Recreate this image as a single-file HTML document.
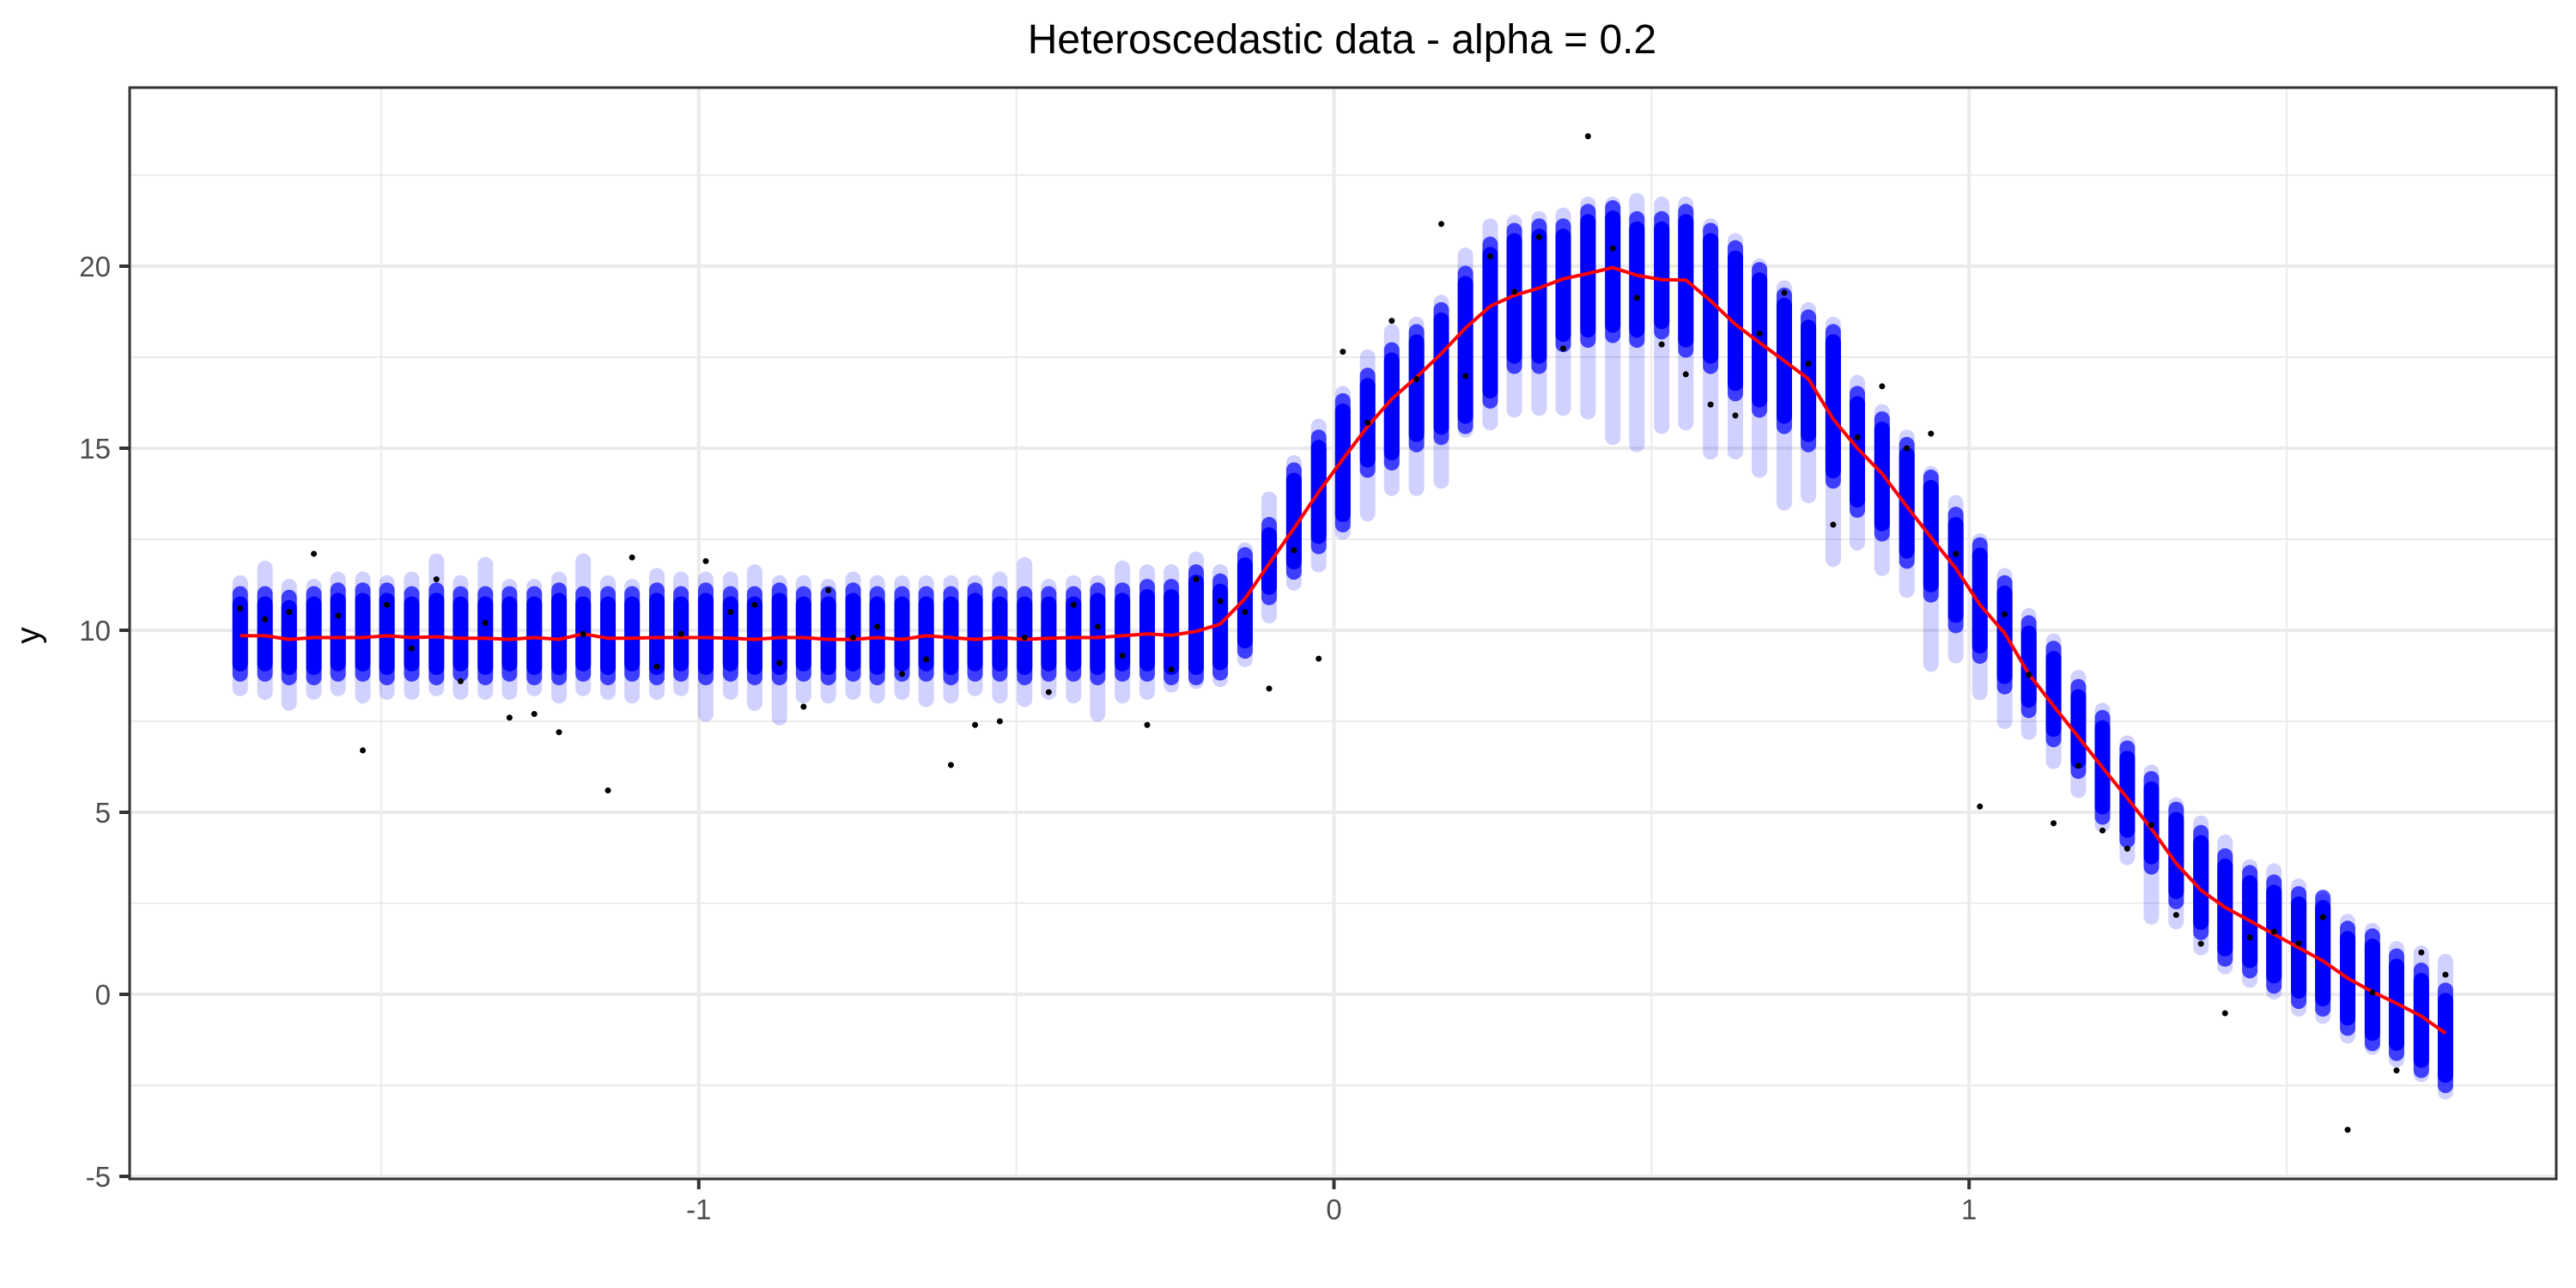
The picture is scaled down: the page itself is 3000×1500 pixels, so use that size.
<!DOCTYPE html>
<html><head><meta charset="utf-8"><style>
html,body{margin:0;padding:0;background:#fff;}
svg{display:block;}
text{font-family:"Liberation Sans",sans-serif;}
</style></head><body>
<svg id="chart" width="3000" height="1500" viewBox="0 0 3000 1500" xmlns="http://www.w3.org/2000/svg">
<rect x="0" y="0" width="3000" height="1500" fill="#fff"/>
<text x="1563" y="62" font-size="48" text-anchor="middle" fill="#000">Heteroscedastic data - alpha = 0.2</text>
<text transform="translate(46,740) rotate(-90)" font-size="39" text-anchor="middle" fill="#000">y</text>
<g id="grid"></g>
<g id="tails"></g>
<g id="bands"></g>
<g id="line"></g>
<g id="dots"></g>
<rect x="151" y="102" width="2826" height="1271" fill="none" stroke="#333" stroke-width="3"/>
<g id="axes"></g>
</svg>
<script>
const colX = [-1.722,-1.683,-1.645,-1.606,-1.568,-1.529,-1.491,-1.452,-1.413,-1.375,-1.336,-1.298,-1.259,-1.220,-1.182,-1.143,-1.105,-1.066,-1.028,-0.989,-0.950,-0.912,-0.873,-0.835,-0.796,-0.757,-0.719,-0.680,-0.642,-0.603,-0.565,-0.526,-0.487,-0.449,-0.410,-0.372,-0.333,-0.294,-0.256,-0.217,-0.179,-0.140,-0.102,-0.063,-0.024,0.014,0.053,0.091,0.130,0.169,0.207,0.246,0.284,0.323,0.361,0.400,0.439,0.477,0.516,0.554,0.593,0.632,0.670,0.709,0.747,0.786,0.824,0.863,0.902,0.940,0.979,1.017,1.056,1.094,1.133,1.172,1.210,1.249,1.287,1.326,1.365,1.403,1.442,1.480,1.519,1.557,1.596,1.635,1.673,1.712,1.750];
const smoothY = [9.85,9.85,9.75,9.8,9.8,9.8,9.85,9.8,9.82,9.78,9.78,9.75,9.8,9.75,9.9,9.78,9.78,9.8,9.8,9.8,9.78,9.75,9.8,9.8,9.75,9.75,9.8,9.75,9.85,9.8,9.75,9.8,9.75,9.78,9.8,9.8,9.85,9.9,
9.86,9.97,10.17,10.87,11.83,12.8,13.8,14.7,15.6,16.35,16.95,17.6,18.3,18.9,19.2,19.4,19.65,19.8,19.96,19.75,19.63,19.62,19.05,18.4,17.9,17.4,16.9,15.8,
15.0,14.3,13.4,12.55,11.7,10.7,9.92,8.8,7.92,7.07,6.23,5.39,4.55,3.6,2.86,2.39,2.02,1.65,1.28,0.92,0.44,0.07,-0.25,-0.6,-1.07];
const bandHi = [11.0,11.0,10.9,11.0,11.1,11.1,11.1,11.0,11.1,11.0,11.0,11.0,11.0,11.1,11.0,11.0,11.0,11.1,11.0,11.1,11.0,11.0,11.1,11.0,11.0,11.1,11.0,11.0,11.0,11.0,11.1,11.0,11.0,11.0,11.0,11.1,11.1,11.2,
11.2,11.6,11.35,12.07,12.9,14.4,15.3,16.3,17.0,17.7,18.2,18.8,19.8,20.6,20.98,21.1,21.1,21.5,21.6,21.3,21.3,21.5,20.98,20.5,19.9,19.2,18.6,18.2,
16.5,15.8,15.1,14.2,13.18,12.34,11.3,10.2,9.5,8.45,7.6,6.76,5.92,5.08,4.44,3.8,3.34,3.08,2.76,2.66,1.81,1.6,1.05,0.66,0.11];
const bandLo = [8.8,8.8,8.7,8.7,8.8,8.8,8.7,8.8,8.7,8.8,8.7,8.8,8.7,8.7,8.8,8.7,8.8,8.7,8.8,8.7,8.8,8.7,8.7,8.8,8.7,8.8,8.7,8.8,8.8,8.7,8.8,8.8,8.7,8.8,8.8,8.7,8.8,8.8,
8.7,8.7,8.83,9.43,10.9,11.6,12.3,12.9,14.4,14.6,15.1,15.3,15.6,16.3,17.25,17.25,17.85,17.97,18.1,17.97,18.2,17.7,17.25,16.5,16.05,15.6,15.1,14.1,
13.3,12.65,11.9,10.97,10.13,9.29,8.45,7.8,7.0,6.13,4.87,4.23,3.5,2.55,1.7,0.97,0.65,0.23,-0.19,-0.4,-0.93,-1.35,-1.62,-2.09,-2.5];
const tailHi = [11.3,11.7,11.2,11.2,11.4,11.4,11.3,11.4,11.9,11.3,11.8,11.2,11.2,11.4,11.9,11.3,11.2,11.5,11.4,11.4,11.4,11.6,11.3,11.3,11.2,11.4,11.3,11.3,11.3,11.3,11.3,11.4,11.8,11.2,11.3,11.3,11.7,11.6,
11.6,11.95,11.6,12.2,13.6,14.6,15.6,16.5,17.5,18.2,18.4,19.0,20.3,21.1,21.2,21.3,21.4,21.7,21.7,21.8,21.7,21.7,21.1,20.7,20.0,19.4,18.8,18.4,
16.8,16.0,15.3,14.3,13.5,12.45,11.5,10.4,9.7,8.7,7.8,6.9,6.1,5.2,4.7,4.18,3.5,3.39,2.97,2.55,2.0,1.75,1.25,1.13,0.9];
const tailLo = [8.4,8.3,8.0,8.3,8.4,8.2,8.3,8.3,8.4,8.3,8.3,8.3,8.4,8.2,8.4,8.3,8.2,8.3,8.4,7.7,8.3,8.0,7.6,8.2,8.2,8.3,8.2,8.3,8.1,8.2,8.4,8.2,8.1,8.3,8.2,7.7,8.2,8.3,
8.5,8.6,8.65,9.2,10.4,11.3,11.8,12.7,13.2,13.9,13.9,14.1,15.5,15.7,16.05,16.1,16.1,16.0,15.3,15.1,15.6,15.7,14.9,14.9,14.4,13.5,13.7,11.95,
12.4,11.7,11.1,9.07,9.3,8.29,7.5,7.2,6.4,5.6,4.66,3.76,2.13,2.0,1.28,0.76,0.39,0.07,-0.4,-0.6,-1.14,-1.45,-1.8,-2.2,-2.68];
const dotY = [10.6,10.3,10.5,12.1,10.4,6.7,10.7,9.5,11.4,8.6,10.2,7.6,7.7,7.2,9.9,5.6,12.0,9.0,9.9,11.9,10.5,10.7,9.1,7.9,11.1,9.8,10.1,8.8,9.2,6.3,7.4,7.5,9.8,8.3,10.7,10.1,9.3,7.4,
8.92,11.4,10.8,10.5,8.4,12.2,9.22,17.65,15.7,18.5,16.9,21.16,16.98,20.27,19.3,20.8,17.74,23.57,20.49,19.13,17.85,17.03,16.2,15.9,18.15,19.27,17.32,12.9,
15.3,16.7,15.0,15.4,12.1,5.16,10.44,8.78,4.7,6.28,4.5,4.0,4.65,2.18,1.39,-0.52,1.56,1.72,1.4,2.12,-3.72,0.05,-2.09,1.15,0.54];
const yTicks = [-5,0,5,10,15,20];
const yTickLabels = ["-5","0","5","10","15","20"];
const yMinor = [-2.5,2.5,7.5,12.5,17.5,22.5];
const xTicks = [-1,0,1];
const xTickLabels = ["-1","0","1"];
const xMinor = [-1.5,-0.5,0.5,1.5];

const NS = "http://www.w3.org/2000/svg";
const PL = 151, PR = 2977, PT = 102, PB = 1373;
function sx(v){ return 1553.5 + 739.7 * v; }
function sy(v){ return 1158 - 42.4 * v; }
function mk(tag, attrs, parent){
  const e = document.createElementNS(NS, tag);
  for (const k in attrs) e.setAttribute(k, attrs[k]);
  parent.appendChild(e);
  return e;
}
const grid = document.getElementById('grid');
yMinor.forEach(v => {
  const l = mk('line', {x1:PL, x2:PR, y1:sy(v), y2:sy(v), stroke:'#ebebeb', 'stroke-width':2}, grid);
  
  
});
xMinor.forEach(v => {
  const l = mk('line', {x1:sx(v), x2:sx(v), y1:PT, y2:PB, stroke:'#ebebeb', 'stroke-width':2}, grid);
  
  
});
yTicks.forEach(v => {
  const l = mk('line', {x1:PL, x2:PR, y1:sy(v), y2:sy(v), stroke:'#ebebeb', 'stroke-width':4}, grid);
  
  
});
xTicks.forEach(v => {
  const l = mk('line', {x1:sx(v), x2:sx(v), y1:PT, y2:PB, stroke:'#ebebeb', 'stroke-width':4}, grid);
  
  
});

const tails = document.getElementById('tails');
const bands = document.getElementById('bands');
const W = 18;
colX.forEach((x, i) => {
  const cx = sx(x);
  const t = mk('rect', {x:cx-W/2, y:sy(tailHi[i])-W/2, width:W, height:sy(tailLo[i])-sy(tailHi[i])+W, rx:9, ry:9, fill:'#0000ff', 'fill-opacity':0.18}, tails);
  
  
  const b = mk('rect', {x:cx-W/2, y:sy(bandHi[i])-W/2, width:W, height:sy(bandLo[i])-sy(bandHi[i])+W, rx:9, ry:9, fill:'#0000ff', 'fill-opacity':0.7}, bands);
  
  
  const c = mk('rect', {x:cx-W/2, y:sy(bandHi[i])+3, width:W, height:Math.max(0, sy(bandLo[i])-sy(bandHi[i])-6), rx:9, ry:9, fill:'#0000ff'}, bands);
  
  
});

const lineG = document.getElementById('line');
const d = colX.map((x, i) => (i ? 'L' : 'M') + sx(x).toFixed(1) + ',' + sy(smoothY[i]).toFixed(1)).join(' ');
const path = mk('path', {d:d, fill:'none', stroke:'#ff0000', 'stroke-width':4, 'stroke-linejoin':'round'}, lineG);



const dots = document.getElementById('dots');
colX.forEach((x, i) => {
  const c = mk('circle', {cx:sx(x), cy:sy(dotY[i]), r:3.5, fill:'#000'}, dots);
  
  
});

const axes = document.getElementById('axes');
yTicks.forEach((v, i) => {
  const tk = mk('line', {x1:139, x2:PL, y1:sy(v), y2:sy(v), stroke:'#333', 'stroke-width':4}, axes);
  
  
  const tx = mk('text', {x:129, y:sy(v)+12, 'font-size':33, 'text-anchor':'end', fill:'#4d4d4d'}, axes);
  tx.textContent = yTickLabels[i];
  
  
});
xTicks.forEach((v, i) => {
  const tk = mk('line', {x1:sx(v), x2:sx(v), y1:PB, y2:PB+12, stroke:'#333', 'stroke-width':4}, axes);
  
  
  const tx = mk('text', {x:sx(v), y:PB+47, 'font-size':33, 'text-anchor':'middle', fill:'#4d4d4d'}, axes);
  tx.textContent = xTickLabels[i];
  
  
});
</script>
</body></html>
